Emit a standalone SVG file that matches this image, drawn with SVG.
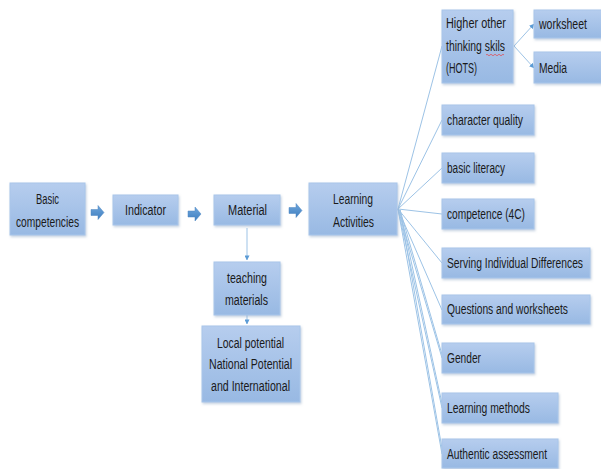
<svg xmlns="http://www.w3.org/2000/svg" width="601" height="469" viewBox="0 0 601 469">
<defs>
<linearGradient id="g" x1="0" y1="0" x2="0" y2="1">
<stop offset="0" stop-color="#b6cdee"/>
<stop offset="1" stop-color="#98b9e3"/>
</linearGradient>
<linearGradient id="ga" x1="0" y1="0" x2="0" y2="1">
<stop offset="0" stop-color="#6fa6dc"/>
<stop offset="1" stop-color="#3f7fc0"/>
</linearGradient>
<filter id="sh" x="-10%" y="-10%" width="130%" height="140%">
<feDropShadow dx="1" dy="1.5" stdDeviation="1" flood-color="#8aa3c2" flood-opacity="0.5"/>
</filter>
<marker id="ah" viewBox="0 0 6 6" refX="5.5" refY="3" markerWidth="5" markerHeight="5" orient="auto">
<path d="M0,0 L6,3 L0,6 z" fill="#5b9bd5"/>
</marker>
</defs>
<style>
.box{fill:url(#g);stroke:#a9c6ea;stroke-width:1;filter:url(#sh)}
.t{font-family:"Liberation Sans Narrow","Liberation Sans",Arial,sans-serif;font-size:14px;fill:#1a1a1a}
.c{text-anchor:middle}
.ln{stroke:#9dc3e6;stroke-width:1;fill:none}
.ar{stroke:#9dc3e6;stroke-width:1;fill:none;marker-end:url(#ah)}
.blk{fill:url(#ga);stroke:#4f86c0;stroke-width:0.5}
</style>

<g id="connectors">
<path class="blk" d="M91,209.5 h7 v-4 l6,7 l-6,7 v-4 h-7 z"/>
<path class="blk" d="M188,211 h7 v-4 l6,7 l-6,7 v-4 h-7 z"/>
<path class="blk" d="M289,207.5 h7 v-4 l6,7 l-6,7 v-4 h-7 z"/>
<line class="ar" x1="247" y1="228" x2="247" y2="260"/>
<line class="ar" x1="247" y1="300" x2="247" y2="324"/>
<line class="ln" x1="398" y1="209" x2="442" y2="46"/>
<line class="ln" x1="398" y1="209" x2="442" y2="120"/>
<line class="ln" x1="398" y1="209" x2="442" y2="168"/>
<line class="ln" x1="398" y1="209" x2="442" y2="214"/>
<line class="ln" x1="398" y1="209" x2="442" y2="263"/>
<line class="ln" x1="398" y1="209" x2="442" y2="310"/>
<line class="ln" x1="398" y1="209" x2="442" y2="358"/>
<line class="ln" x1="398" y1="209" x2="442" y2="408"/>
<line class="ln" x1="398" y1="209" x2="442" y2="454"/>
<line class="ln" x1="400" y1="210" x2="443" y2="358"/>
<line class="ln" x1="400" y1="210" x2="443" y2="408"/>
<line class="ln" x1="400" y1="210" x2="443" y2="454"/>
<line class="ar" x1="514" y1="46" x2="534" y2="24"/>
<line class="ar" x1="514" y1="46" x2="534" y2="68"/>
</g>

<g id="basic-competencies">
<rect class="box" x="10" y="183" width="75" height="52"/>
<text class="t c" x="47.5" y="204" textLength="23" lengthAdjust="spacingAndGlyphs">Basic</text>
<text class="t c" x="47.5" y="227" textLength="63" lengthAdjust="spacingAndGlyphs">competencies</text>
</g>
<g id="indicator">
<rect class="box" x="113" y="195" width="65" height="30"/>
<text class="t c" x="145.5" y="215" textLength="41" lengthAdjust="spacingAndGlyphs">Indicator</text>
</g>
<g id="material">
<rect class="box" x="214" y="195" width="66" height="30"/>
<text class="t c" x="247.5" y="215" textLength="39" lengthAdjust="spacingAndGlyphs">Material</text>
</g>
<g id="learning-activities">
<rect class="box" x="309" y="183" width="88" height="52"/>
<text class="t c" x="353" y="204" textLength="40" lengthAdjust="spacingAndGlyphs">Learning</text>
<text class="t c" x="353.5" y="227" textLength="41" lengthAdjust="spacingAndGlyphs">Activities</text>
</g>
<g id="teaching-materials">
<rect class="box" x="214" y="262" width="66" height="53"/>
<text class="t c" x="247" y="283" textLength="40" lengthAdjust="spacingAndGlyphs">teaching</text>
<text class="t c" x="246.5" y="305" textLength="43" lengthAdjust="spacingAndGlyphs">materials</text>
</g>
<g id="local-potential">
<rect class="box" x="202" y="326" width="98" height="76"/>
<text class="t c" x="250.5" y="348" textLength="67" lengthAdjust="spacingAndGlyphs">Local potential</text>
<text class="t c" x="250.5" y="369" textLength="83" lengthAdjust="spacingAndGlyphs">National Potential</text>
<text class="t c" x="250.5" y="391" textLength="79" lengthAdjust="spacingAndGlyphs">and International</text>
</g>
<g id="hots">
<rect class="box" x="442" y="10" width="71" height="73"/>
<text class="t" x="446" y="28" textLength="60" lengthAdjust="spacingAndGlyphs">Higher other</text>
<text class="t" x="446" y="51" textLength="59" lengthAdjust="spacingAndGlyphs">thinking skils</text>
<text class="t" x="446" y="73" textLength="31" lengthAdjust="spacingAndGlyphs">(HOTS)</text>
<path d="M486,55 q1,-1.5 2,0 t2,0 t2,0 t2,0 t2,0 t2,0 t2,0 t2,0 t2,0" fill="none" stroke="#e0505a" stroke-width="0.8"/>
</g>
<g id="worksheet">
<rect class="box" x="534" y="10" width="70" height="28"/>
<text class="t" x="539" y="29" textLength="48" lengthAdjust="spacingAndGlyphs">worksheet</text>
</g>
<g id="media">
<rect class="box" x="534" y="52" width="70" height="31"/>
<text class="t" x="539" y="73" textLength="28" lengthAdjust="spacingAndGlyphs">Media</text>
</g>
<g id="character-quality">
<rect class="box" x="442" y="105" width="92" height="30"/>
<text class="t" x="447" y="125" textLength="76" lengthAdjust="spacingAndGlyphs">character quality</text>
</g>
<g id="basic-literacy">
<rect class="box" x="442" y="153" width="92" height="30"/>
<text class="t" x="447" y="173" textLength="58" lengthAdjust="spacingAndGlyphs">basic literacy</text>
</g>
<g id="competence">
<rect class="box" x="442" y="199" width="92" height="30"/>
<text class="t" x="447" y="219" textLength="78" lengthAdjust="spacingAndGlyphs">competence (4C)</text>
</g>
<g id="serving">
<rect class="box" x="442" y="248" width="148" height="30"/>
<text class="t" x="447" y="268" textLength="136" lengthAdjust="spacingAndGlyphs">Serving Individual Differences</text>
</g>
<g id="questions">
<rect class="box" x="442" y="295" width="148" height="29"/>
<text class="t" x="447" y="314" textLength="121" lengthAdjust="spacingAndGlyphs">Questions and worksheets</text>
</g>
<g id="gender">
<rect class="box" x="442" y="343" width="92" height="30"/>
<text class="t" x="447" y="363" textLength="34" lengthAdjust="spacingAndGlyphs">Gender</text>
</g>
<g id="learning-methods">
<rect class="box" x="442" y="393" width="116" height="30"/>
<text class="t" x="447" y="413" textLength="83" lengthAdjust="spacingAndGlyphs">Learning methods</text>
</g>
<g id="authentic-assessment">
<rect class="box" x="442" y="439" width="116" height="29"/>
<text class="t" x="447" y="459" textLength="100" lengthAdjust="spacingAndGlyphs">Authentic assessment</text>
</g>
</svg>
